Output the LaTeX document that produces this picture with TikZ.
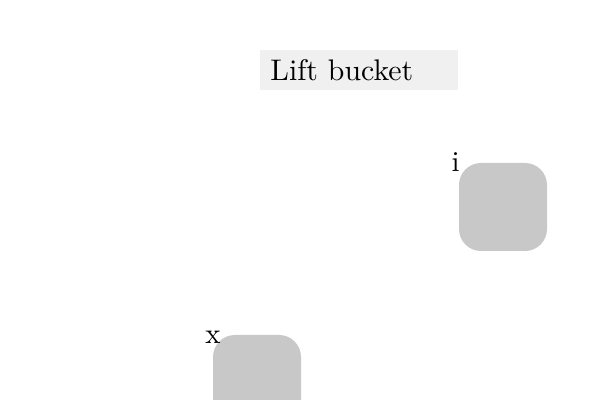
\documentclass[tikz,border=0pt]{standalone}
\usepackage{fontspec}
\setmainfont{lmroman10-regular.otf}
\usetikzlibrary{positioning}
\definecolor{boxgray}{HTML}{F0F0F0}
\definecolor{tilegray}{HTML}{C8C8C8}
\begin{document}
\begin{tikzpicture}
        [
            x=0.5pt, y=-0.5pt,
            tile/.style={rectangle, rounded corners=11pt, fill=tilegray, minimum size=44pt, inner sep=0pt},
            tag/.style={font=\fontsize{14.4}{17}\selectfont, inner sep=0pt, anchor=base}
        ]
        \clip (0,0) rectangle (600,400);
        % Title
        \node[fill=boxgray, anchor=north west, minimum width=99pt, minimum height=20pt, text width=89pt, inner xsep=5pt, inner ysep=0pt, font=\fontsize{14.9}{18}\selectfont] (title) at (260,50) {Lift bucket};
        % Tiles
        \node[tile] (itile) at (503,207) {};
        \node[tile] (xtile) at (257,379) {};
        % Labels
        \node[tag] (ilabel) at (455.5,172) {i};
        \node[tag] (xlabel) at (213,344) {x};
\end{tikzpicture}
\end{document}
